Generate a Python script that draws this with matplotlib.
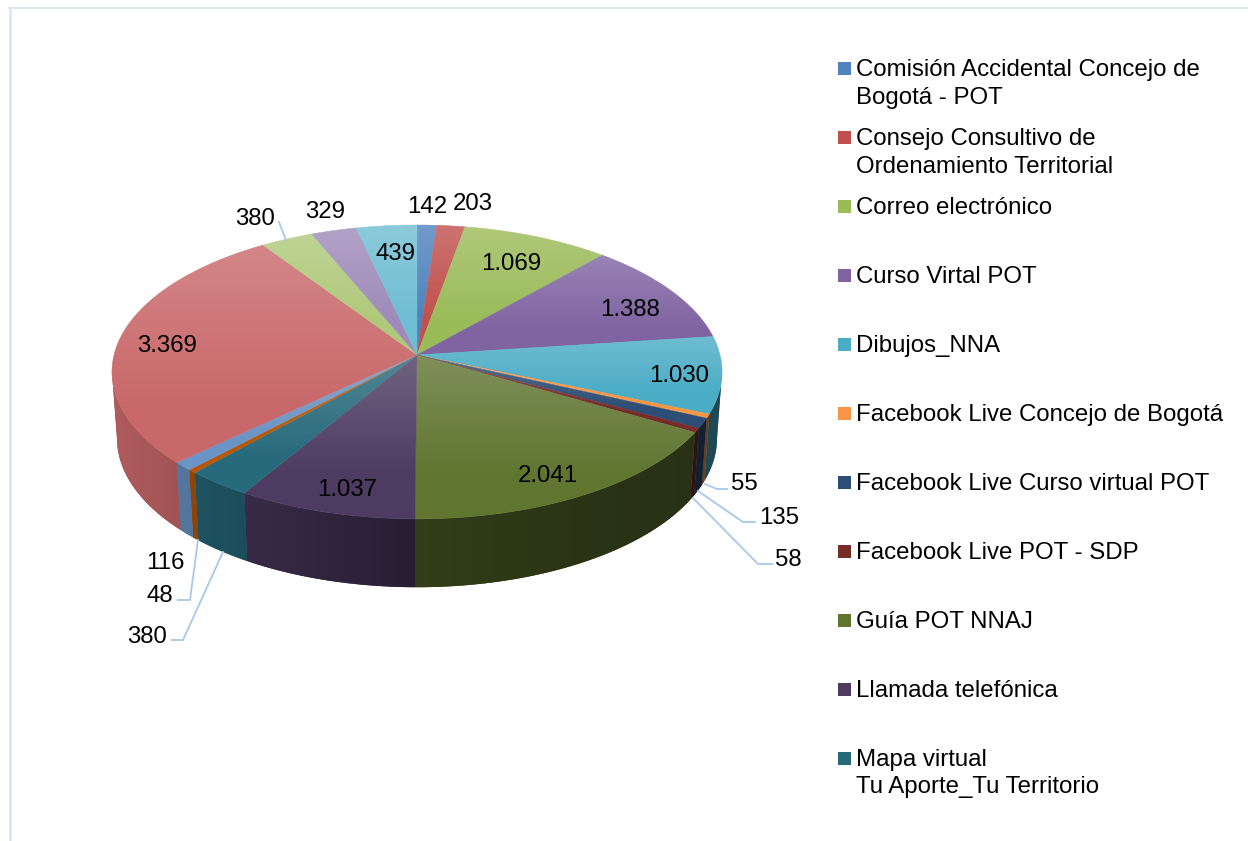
import numpy as np
import matplotlib
matplotlib.use("Agg")
import matplotlib.pyplot as plt
from matplotlib.patches import Polygon

plt.rcParams['font.family'] = ['Liberation Sans', 'DejaVu Sans']

# leyenda (solo se ven 11 entradas en el original)
legend_labels = ["Comisión Accidental Concejo de\nBogotá - POT",
                 "Consejo Consultivo de\nOrdenamiento Territorial",
                 "Correo electrónico",
                 "Curso Virtal POT",
                 "Dibujos_NNA",
                 "Facebook Live Concejo de Bogotá",
                 "Facebook Live Curso virtual POT",
                 "Facebook Live POT - SDP",
                 "Guía POT NNAJ",
                 "Llamada telefónica",
                 "Mapa virtual\nTu Aporte_Tu Territorio"]

values = [142, 203, 1069, 1388, 1030, 55, 135, 58, 2041, 1037, 380, 48, 116, 3369, 380, 329, 439]

colors = ["#4F81BD", "#C0504D", "#9BBB59", "#8064A2", "#4BACC6", "#F79646",
          "#2C4D75", "#772C2A", "#5F7530", "#4D3B62", "#276A7C", "#B65708",
          "#6A94C6", "#C9686A", "#AFC97A", "#9F8AB9", "#6FBDD2"]

# posicion de cada etiqueta, mismo orden que values
label_pos = [(427, 205), (473, 202), (511, 262), (630, 308), (679, 374), (744, 482),
             (779, 516), (788, 558), (548, 474), (347, 488), (147, 635), (160, 594),
             (165, 561), (167, 344), (255, 217), (325, 210), (395, 252)]

leaders = [[(705, 484), (717, 489), (727, 489)],
           [(698, 491), (743, 522), (755, 522)],
           [(693, 498), (758, 564), (772, 564)],
           [(198, 540), (190, 600), (178, 600)],
           [(223, 552), (183, 640), (172, 640)],
           [(279, 222), (286, 240)]]

CX, CY = 417, 355
K = 0.1156
# angulos donde el borde de la elipse es vertical: ahi termina la cara lateral
SIDE_A = np.arccos(-K)
SIDE_B = 2 * np.pi - SIDE_A


def top_rim(theta):
    u, v = np.sin(theta), np.cos(theta)
    d = 1 + K * v
    return CX + 303 * u / d, CY - 145 * v / d


def bottom_rim(theta):
    u, v = np.sin(theta), np.cos(theta)
    d = 1 + K * v
    return CX + 298 * u / d, CY + 66 - 147 * v / d


fig = plt.figure(figsize=(12.48, 8.41), dpi=100)
ax = fig.add_axes([0, 0, 1, 1])

# marco
ax.plot([9.5, 9.5], [841, 8], color="#DCE6F2", lw=2)
ax.plot([9, 1248], [8, 8], color="#DCE6F2", lw=1.5)

edges = np.radians(np.concatenate([[0], np.cumsum(values)]) / sum(values) * 360)

# cara lateral, degradado horizontal recortado por cada trozo
for i in range(len(values)):
    a0, a1 = max(edges[i], SIDE_A), min(edges[i + 1], SIDE_B)
    if a1 <= a0:
        continue
    ts = np.linspace(a0, a1, max(3, int(np.degrees(a1 - a0)) * 2 + 3))
    tx, ty = top_rim(ts)
    bx, by = bottom_rim(ts[::-1])
    pts = np.column_stack([np.r_[tx, bx], np.r_[ty, by]])
    base = np.array(matplotlib.colors.to_rgb(colors[i]))
    poly = Polygon(pts, closed=True, fc=base * 0.6, ec="none", zorder=2)
    ax.add_patch(poly)
    x0, x1 = pts[:, 0].min() - 1, pts[:, 0].max() + 1
    xs = np.linspace(x0, x1, 64)
    s = np.interp(xs, [112, 250, 415, 600, 723], [0.88, 0.72, 0.52, 0.44, 0.42])
    img = (base[None, None, :] * s[None, :, None])
    im = ax.imshow(img, extent=[x0, x1, pts[:, 1].max() + 1, pts[:, 1].min() - 1],
                   aspect="auto", zorder=2.1, interpolation="bilinear")
    im.set_clip_path(poly)

# cara superior, cada trozo con su propio brillo de arriba hacia abajo
for i in range(len(values)):
    ts = np.linspace(edges[i], edges[i + 1], max(3, int(np.degrees(edges[i + 1] - edges[i])) * 2 + 3))
    x, y = top_rim(ts)
    pts = np.column_stack([np.r_[CX, x], np.r_[CY, y]])
    poly = Polygon(pts, closed=True, fc=colors[i], ec=colors[i], lw=0.3, zorder=3)
    ax.add_patch(poly)
    y0, y1 = pts[:, 1].min(), pts[:, 1].max()
    rows = np.linspace(y0, y1, 64)
    grad = np.ones((64, 1, 4))
    grad[:, 0, 3] = np.interp(rows, [y0, y0 + 0.75 * (y1 - y0)], [0.2, 0.0])
    im = ax.imshow(grad, extent=[pts[:, 0].min() - 1, pts[:, 0].max() + 1, y1, y0],
                   aspect="auto", zorder=3.1, interpolation="bilinear")
    im.set_clip_path(poly)

# lineas guia
for pts in leaders:
    xs, ys = zip(*pts)
    ax.plot(xs, ys, color="#A6C8EC", lw=1.3, zorder=5, solid_joinstyle="miter")

# etiquetas de datos
for v, (px, py) in zip(values, label_pos):
    ax.text(px, py + 2, f"{v:,}".replace(",", "."), fontsize=17.25, ha="center", va="center", zorder=6)

# leyenda
y = 68
for name, c in zip(legend_labels, colors):
    ax.add_patch(Polygon([(838, y - 6.5), (851, y - 6.5), (851, y + 6.5), (838, y + 6.5)],
                         closed=True, fc=c, ec="none", zorder=3))
    for j, line in enumerate(name.split("\n")):
        ax.text(856, y + 2 + j * 27.5, line, fontsize=17.25, ha="left", va="center", zorder=6)
    y += 69

ax.set_xlim(0, 1248)
ax.set_ylim(841, 0)
ax.axis("off")
fig.savefig("out.png", dpi=100, facecolor="white")
